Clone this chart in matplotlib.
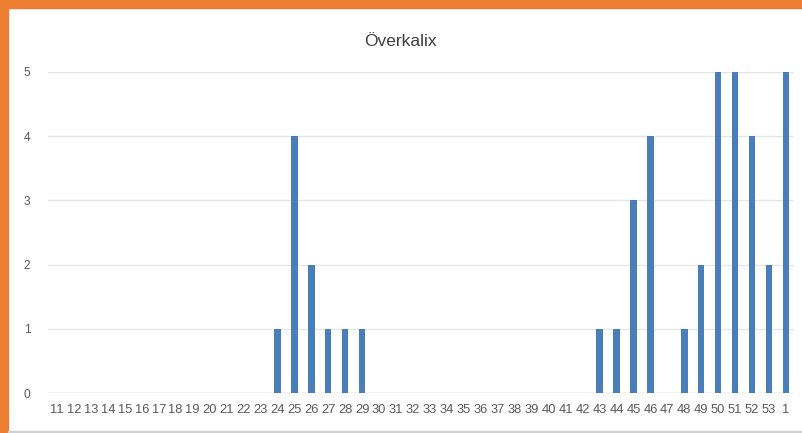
import matplotlib.pyplot as plt
from matplotlib.patches import Rectangle

# week numbers and counts
weeks = [str(w) for w in range(11, 54)] + ["1"]
counts = [0] * 13 + [1, 4, 2, 1, 1, 1] + [0] * 13 + [1, 1, 3, 4, 0, 1, 2, 5, 5, 4, 2, 5]
yticks = [0, 1, 2, 3, 4, 5]

plt.rcParams['font.family'] = ['Liberation Sans', 'DejaVu Sans']

fig = plt.figure(figsize=(8.03, 4.33), dpi=100)
W, H = 803, 433
ax = fig.add_axes([48.5 / W, (H - 393) / H, (794.5 - 48.5) / W, (393 - 72) / H])

x = list(range(len(weeks)))
ax.bar(x, counts, width=0.38, color='#4A7EBB', zorder=3)

ax.set_xlim(-0.5, len(weeks) - 0.5)
ax.set_ylim(0, 5)
ax.set_xticks(x)
ax.set_xticklabels(weeks, fontsize=9.3, color='#595959')
ax.set_yticks(yticks)
ax.set_yticklabels([str(v) for v in yticks], fontsize=8.6, color='#595959')
ax.tick_params(length=0, pad=8)
ax.tick_params(axis='y', pad=13)
ax.grid(axis='y', color='#E6E6E6', linewidth=1, zorder=0)
for s in ax.spines.values():
    s.set_visible(False)
ax.axhline(0, color='#D9D9D9', linewidth=1, zorder=2)

fig.text(400 / W, 1 - 42 / H, "Överkalix", ha='center', va='center',
         fontsize=12.5, color='#404040')

# orange frame at left and top, grey line at bottom
fig.patches.append(Rectangle((0, 0), 8 / W, 1, transform=fig.transFigure,
                             color='#ED7D31', zorder=10))
fig.patches.append(Rectangle((0, 1 - 8 / H), 1, 8 / H, transform=fig.transFigure,
                             color='#ED7D31', zorder=10))
fig.patches.append(Rectangle((8 / W, 0), 1, 2 / H, transform=fig.transFigure,
                             color='#D0D0D0', zorder=10))

fig.savefig('out.png', dpi=100)
